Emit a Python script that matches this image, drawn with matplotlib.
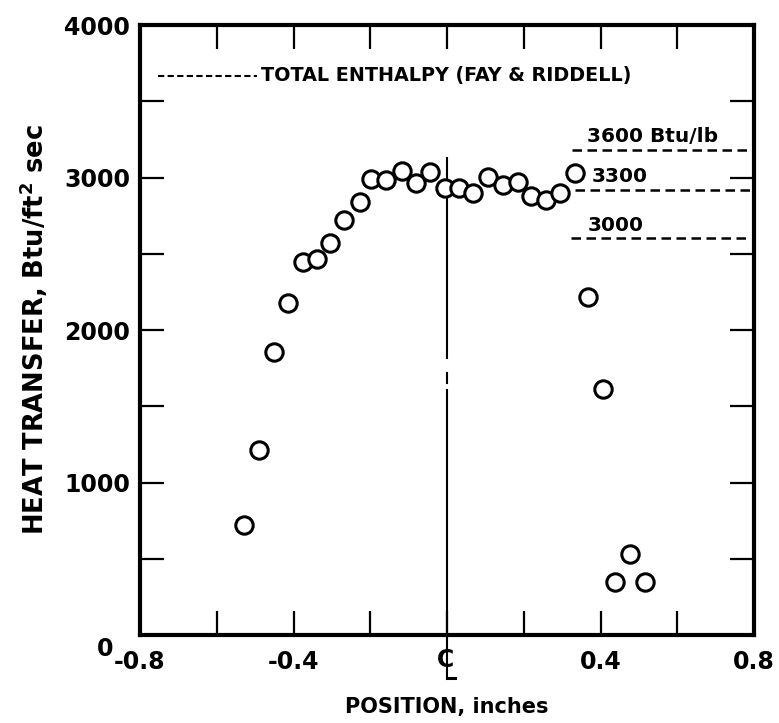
# heat transfer distribution across the model, with total enthalpy levels (Fay & Riddell)

import matplotlib
matplotlib.use("Agg")
import matplotlib.pyplot as plt

# measured points
position = [-0.528, -0.489, -0.451, -0.415, -0.376, -0.340, -0.305, -0.268,
            -0.227, -0.199, -0.160, -0.118, -0.081, -0.044, -0.005, 0.031,
            0.067, 0.108, 0.147, 0.184, 0.219, 0.257, 0.294, 0.334,
            0.368, 0.406, 0.477, 0.438, 0.516]
heat = [721, 1213, 1858, 2179, 2446, 2464, 2569, 2721,
        2839, 2988, 2984, 3043, 2966, 3036, 2933, 2933,
        2898, 3005, 2951, 2969, 2879, 2852, 2900, 3028,
        2218, 1610, 530, 345, 345]

# Fay & Riddell levels for several total enthalpies
enthalpy_labels = ["3600 Btu/lb", "3300", "3000"]
enthalpy_q = [3180, 2918, 2601]
enthalpy_x0 = [0.325, 0.333, 0.322]
key_q = 3666

xticks_major = [-0.8, -0.4, 0.0, 0.4, 0.8]
xtick_labels = ["-0.8", "-0.4", "", "0.4", "0.8"]
yticks_major = [1000, 2000, 3000, 4000]

fig = plt.figure(figsize=(7.79, 7.23), dpi=100)
ax = fig.add_axes([0.1797, 0.1217, 0.7883, 0.8437])
ax.set_xlim(-0.8, 0.8)
ax.set_ylim(0, 4000)

# centre line (broken a little around q = 1700), runs down into the symbol
ax.plot([0, 0], [-285, 1607], color="black", lw=1.5, clip_on=False)
ax.plot([0, 0.022], [-285, -285], color="black", lw=2.2, clip_on=False)
ax.plot([0, 0], [1652, 1718], color="black", lw=1.5)
ax.plot([0, 0], [1816, 3130], color="black", lw=1.5)

ax.plot(position, heat, "o", ms=12.5, mfc="white", mec="black", mew=2.2, zorder=3)

for lab, q, x0 in zip(enthalpy_labels, enthalpy_q, enthalpy_x0):
    ax.plot([x0, 0.79], [q, q], color="black", lw=1.8, dashes=(3.8, 2.2))
    ax.text(x0 + 0.045 if lab != "3600 Btu/lb" else x0 + 0.04, q + 25, lab,
            fontsize=14.5, fontweight="bold", ha="left", va="bottom")

ax.plot([-0.754, -0.495], [key_q, key_q], color="black", lw=1.5, dashes=(3, 1.6))
ax.text(-0.485, key_q, "TOTAL ENTHALPY (FAY & RIDDELL)", fontsize=13.8,
        fontweight="bold", ha="left", va="center")

for s in ax.spines.values():
    s.set_linewidth(3)

ax.set_xticks(xticks_major)
ax.set_xticklabels(xtick_labels)
ax.set_xticks([-0.6, -0.2, 0.2, 0.6], minor=True)
ax.set_yticks(yticks_major)
ax.set_yticks([500, 1500, 2500, 3500], minor=True)
ax.tick_params(which="both", direction="in", length=17, width=1.6,
               top=True, right=True, labelsize=17, pad=7)
ax.tick_params(axis="x", which="both", pad=11)
for t in ax.get_xticklabels() + ax.get_yticklabels():
    t.set_fontweight("bold")

# centre-line symbol under x = 0: the C, the L is drawn by the line above
ax.text(-0.003, -165, "C", fontsize=17, fontweight="bold", ha="center", va="center")

ax.text(-0.87, -10, "0", fontsize=17, fontweight="bold", ha="right", va="top")

ax.set_xlabel("POSITION, inches", fontsize=15, fontweight="bold", labelpad=16)
ax.set_ylabel("HEAT TRANSFER, Btu/ft$^{\\mathbf{2}}$ sec", fontsize=18.5,
              fontweight="bold", labelpad=10)

fig.savefig("out.png", dpi=100)
